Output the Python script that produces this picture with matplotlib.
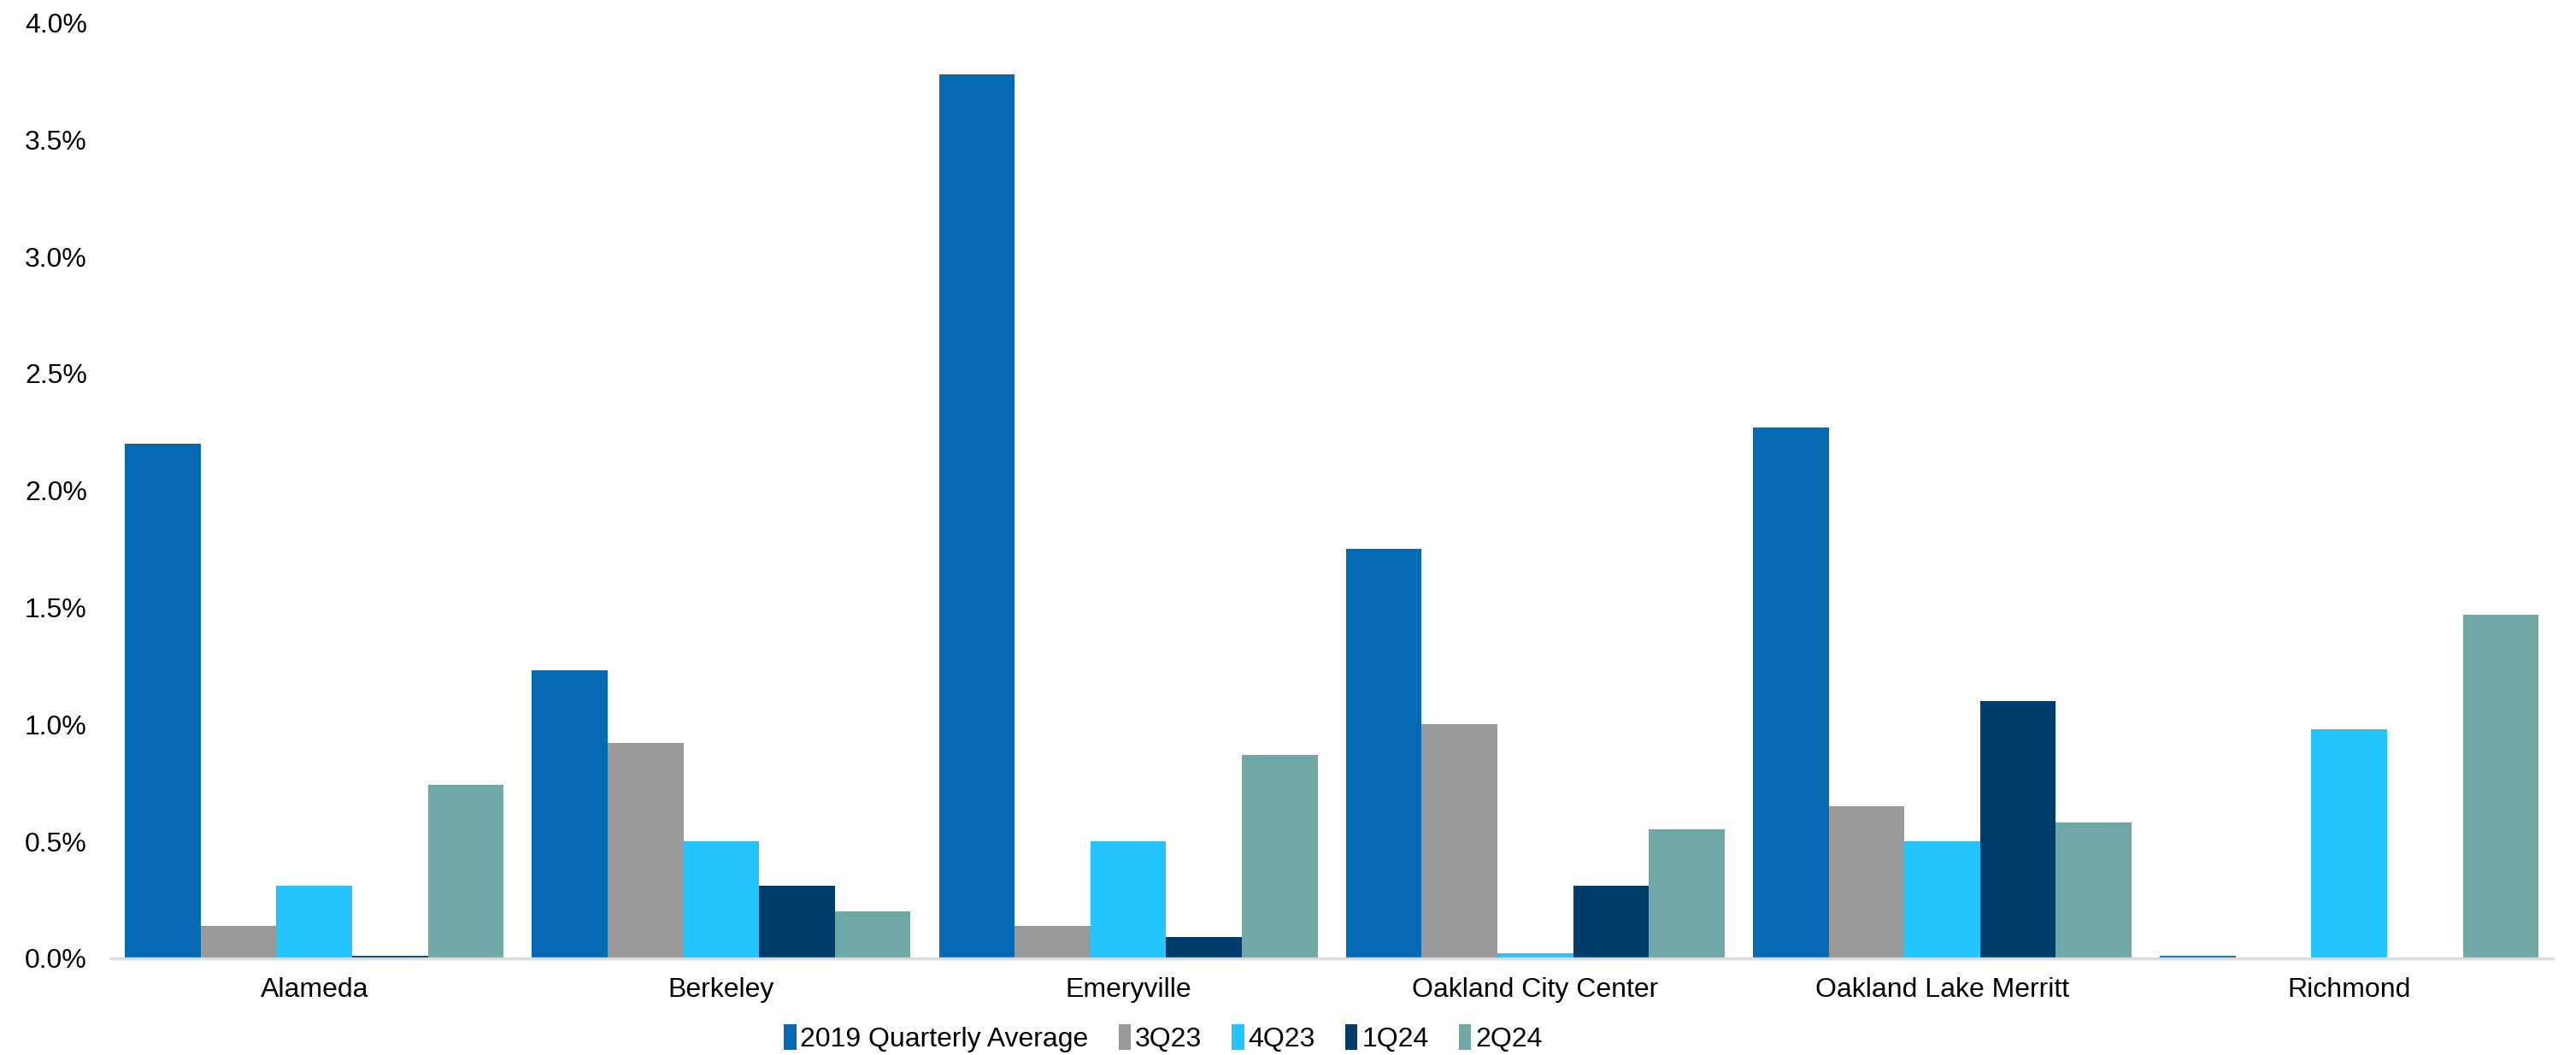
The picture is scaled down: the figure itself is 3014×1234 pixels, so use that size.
import numpy as np
import matplotlib.pyplot as plt
from matplotlib.ticker import FuncFormatter

plt.rcParams['font.family'] = ['Liberation Sans', 'DejaVu Sans']

# Data (percent)
markets = ['Alameda', 'Berkeley', 'Emeryville', 'Oakland City Center',
           'Oakland Lake Merritt', 'Richmond']
series_names = ['2019 Quarterly Average', '3Q23', '4Q23', '1Q24', '2Q24']
avg_2019 = [2.20, 1.23, 3.78, 1.75, 2.27, 0.01]
q3_23 = [0.14, 0.92, 0.14, 1.00, 0.65, 0.0]
q4_23 = [0.31, 0.50, 0.50, 0.02, 0.50, 0.98]
q1_24 = [0.01, 0.31, 0.09, 0.31, 1.10, 0.0]
q2_24 = [0.74, 0.20, 0.87, 0.55, 0.58, 1.47]
colors = ['#066ab4', '#999999', '#24c5fe', '#003d6a', '#70a8a8']

series = [avg_2019, q3_23, q4_23, q1_24, q2_24]

fig = plt.figure(figsize=(30.14, 12.34), dpi=100)
ax = fig.add_axes([0.043, 0.0916, 0.948, 0.887])

x = np.arange(len(markets))
w = 0.186
for i, (vals, name, c) in enumerate(zip(series, series_names, colors)):
    ax.bar(x + (i - 2) * w, vals, width=w, color=c, label=name)

ax.set_xlim(-0.5, len(markets) - 0.5)
ax.set_ylim(0, 4.0)
ax.set_yticks(np.arange(0, 4.01, 0.5))
ax.yaxis.set_major_formatter(FuncFormatter(lambda v, p: f'{v:.1f}%'))
ax.set_xticks(x)
ax.set_xticklabels(markets)
ax.tick_params(axis='both', length=0, labelsize=23)
ax.tick_params(axis='x', pad=16)
ax.tick_params(axis='y', pad=20)

for s in ['top', 'right', 'left']:
    ax.spines[s].set_visible(False)
ax.spines['bottom'].set_color('#d9d9d9')
ax.spines['bottom'].set_linewidth(2.5)

ax.legend(loc='center', bbox_to_anchor=(0.4515, 0.016), bbox_transform=fig.transFigure,
          ncol=5, frameon=False, fontsize=23, handlelength=0.45, handleheight=1.1,
          handletextpad=0.15, columnspacing=1.1)

fig.savefig('out.png', dpi=100)
